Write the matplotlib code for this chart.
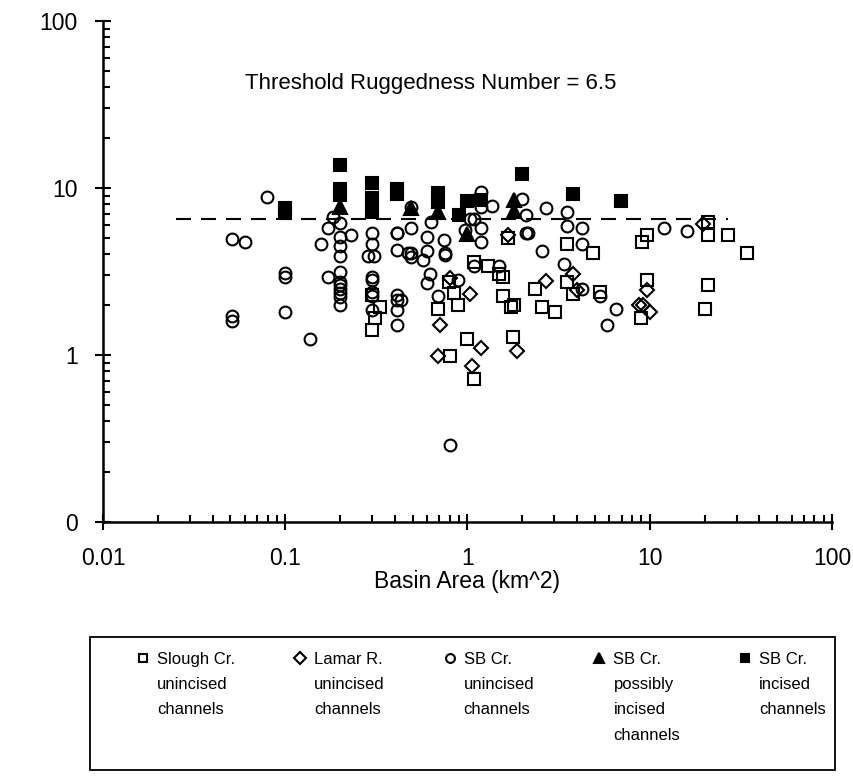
import matplotlib
matplotlib.use('Agg')
import matplotlib.pyplot as plt
from matplotlib.ticker import FixedLocator, FixedFormatter, LogLocator, NullFormatter
from matplotlib.patches import Rectangle

plt.rcParams['font.family'] = ['Liberation Sans', 'DejaVu Sans']

# ---------------- data ----------------
slough_x = [0.3, 0.31, 0.33, 0.3, 0.69, 0.8, 0.84, 0.89, 0.79, 1.0, 1.08, 1.08, 1.29, 1.49,
            1.57, 1.57, 1.73, 1.8, 1.77, 1.67, 2.34, 2.55, 3.02, 3.5, 4.9, 3.5, 3.81, 5.33,
            9.1, 9.7, 9.7, 9.0, 20.9, 20.9, 27, 34, 20.9, 20.2]
slough_y = [1.41, 1.66, 1.95, 2.3, 1.88, 0.98, 2.34, 2.0, 2.72, 1.25, 0.72, 3.62, 3.41, 3.07,
            2.92, 2.26, 1.95, 2.0, 1.28, 5.0, 2.48, 1.95, 1.82, 4.6, 4.06, 2.72, 2.32, 2.39,
            4.77, 5.24, 2.8, 1.66, 5.24, 6.3, 5.24, 4.06, 2.63, 1.88]

lamar_x = [0.8, 1.03, 0.71, 1.19, 0.69, 1.06, 1.67, 1.87, 2.7, 3.81, 4.0, 9.7, 8.7, 9.2, 10.0, 19.7]
lamar_y = [2.9, 2.32, 1.52, 1.1, 0.98, 0.86, 5.2, 1.06, 2.79, 3.05, 2.45, 2.45, 2.0, 2.0, 1.8, 6.08]

sbu_x = [0.051, 0.060, 0.051, 0.051, 0.079, 0.1, 0.1, 0.1, 0.137, 0.157, 0.172, 0.172, 0.182,
         0.2, 0.2, 0.229, 0.2, 0.2, 0.2, 0.2, 0.2, 0.2, 0.2, 0.2, 0.2,
         0.3, 0.3, 0.285, 0.307, 0.3, 0.3, 0.3, 0.3, 0.3,
         0.41, 0.41, 0.47, 0.41, 0.41, 0.43, 0.41, 0.41,
         0.49, 0.49, 0.49, 0.41,
         0.63, 0.6, 0.74, 0.6, 0.75, 0.75, 0.57, 0.62, 0.6, 0.69, 0.89, 0.49,
         1.19, 1.37, 1.19, 1.03, 1.08, 1.19, 0.97, 1.19, 1.08, 1.49, 0.8,
         1.98, 2.1, 2.1, 2.15, 2.7, 2.55, 3.5, 3.5, 4.26, 4.26, 3.4, 4.26, 5.33, 6.54, 5.8,
         11.9, 16.1]
sbu_y = [4.93, 4.73, 1.72, 1.6, 8.8, 3.08, 2.95, 1.82, 1.25, 4.6, 5.74, 2.94, 6.68,
         6.15, 5.07, 5.24, 4.5, 3.92, 3.16, 2.75, 2.62, 2.47, 2.34, 2.22, 2.0,
         5.4, 4.6, 3.92, 3.92, 2.94, 2.8, 2.39, 2.25, 1.86,
         5.4, 4.26, 4.06, 2.3, 2.14, 2.14, 1.86, 1.52,
         5.8, 3.88, 7.7, 5.4,
         6.3, 5.1, 4.85, 4.2, 4.1, 3.95, 3.7, 3.05, 2.7, 2.26, 2.82, 4.1,
         9.5, 7.83, 7.7, 6.5, 6.5, 5.74, 5.6, 4.77, 3.4, 3.4, 0.29,
         8.6, 6.89, 5.4, 5.4, 7.55, 4.22, 7.14, 5.9, 5.74, 4.6, 3.5, 2.47, 2.26, 1.88, 1.52,
         5.74, 5.53]

sbp_x = [0.2, 0.49, 0.69, 1.0, 1.8, 1.8]
sbp_y = [7.7, 7.6, 7.2, 5.3, 8.5, 7.3]

sbi_x = [0.1, 0.1, 0.2, 0.2, 0.2, 0.3, 0.3, 0.3, 0.41, 0.41, 0.69, 0.69, 1.0, 0.9, 1.19,
         1.98, 3.81, 6.93]
sbi_y = [7.6, 7.1, 13.7, 9.85, 9.1, 10.7, 8.7, 7.2, 9.8, 9.2, 9.3, 8.3, 8.4, 6.9, 8.5,
         12.1, 9.16, 8.36]

threshold = 6.5
threshold_x = [0.025, 27]

x_ticks = [0.01, 0.1, 1, 10, 100]
x_tick_labels = ['0.01', '0.1', '1', '10', '100']
y_ticks = [0.1, 1, 10, 100]
y_tick_labels = ['0', '1', '10', '100']

legend_labels = ['Slough Cr.\nunincised\nchannels',
                 'Lamar R.\nunincised\nchannels',
                 'SB Cr.\nunincised\nchannels',
                 'SB Cr.\npossibly\nincised\nchannels',
                 'SB Cr.\nincised\nchannels']

# ---------------- figure ----------------
W, H = 854, 781
fig = plt.figure(figsize=(W / 100, H / 100), dpi=100)
ax = fig.add_axes([103 / W, 1 - 522 / H, (832 - 103) / W, (522 - 21) / H])
ax.set_xscale('log')
ax.set_yscale('log')
ax.set_xlim(0.01, 100)
ax.set_ylim(0.1, 100)

ms = 8.5
mew = 1.5
h_sbi, = ax.plot(sbi_x, sbi_y, ls='none', marker='s', ms=ms, mfc='black', mec='black', mew=mew)
h_sbp, = ax.plot(sbp_x, sbp_y, ls='none', marker='^', ms=ms + 1.5, mfc='black', mec='black', mew=mew)
h_slough, = ax.plot(slough_x, slough_y, ls='none', marker='s', ms=ms, mfc='none', mec='black', mew=mew)
h_lamar, = ax.plot(lamar_x, lamar_y, ls='none', marker='D', ms=ms - 1, mfc='none', mec='black', mew=mew)
h_sbu, = ax.plot(sbu_x, sbu_y, ls='none', marker='o', ms=ms, mfc='none', mec='black', mew=mew)

ax.plot(threshold_x, [threshold, threshold], color='black', lw=1.5, ls=(0, (7.2, 4.8)))

ax.text(0.63, 42.5, 'Threshold Ruggedness Number = %g' % threshold, ha='center', va='center',
        fontsize=16)

for s in ('top', 'right'):
    ax.spines[s].set_visible(False)
for s in ('left', 'bottom'):
    ax.spines[s].set_linewidth(1.8)

ax.xaxis.set_major_locator(FixedLocator(x_ticks))
ax.xaxis.set_major_formatter(FixedFormatter(x_tick_labels))
ax.yaxis.set_major_locator(FixedLocator(y_ticks))
ax.yaxis.set_major_formatter(FixedFormatter(y_tick_labels))
for axis in (ax.xaxis, ax.yaxis):
    axis.set_minor_locator(LogLocator(base=10, subs=range(2, 10), numticks=100))
    axis.set_minor_formatter(NullFormatter())

ax.tick_params(which='major', direction='inout', length=11, width=1.5, labelsize=16.5, pad=12.5)
ax.tick_params(which='minor', direction='in', length=5, width=1.5)

ax.set_xlabel('Basin Area (km^2)', fontsize=16.5)
ax.xaxis.set_label_coords(0.5, -(570 - 522) / 501)
ax.xaxis.label.set_va('top')

# legend box
fig.add_artist(Rectangle((90 / W, 1 - 770 / H), (835 - 90) / W, (770 - 637) / H,
                         transform=fig.transFigure, fill=False, edgecolor='black', lw=1.3))

leg = fig.legend(handles=[h_slough, h_lamar, h_sbu, h_sbp, h_sbi], labels=legend_labels,
                 ncol=5, loc='upper left',
                 bbox_to_anchor=(137 / W, 1 - 652 / H, (826 - 137) / W, 0.0),
                 mode='expand', frameon=False, fontsize=12, handlelength=0.7,
                 handletextpad=0.5, borderpad=0, borderaxespad=0, markerscale=0.75)
for t in leg.get_texts():
    t.set_linespacing(1.85)
leg._legend_handle_box.align = 'top'
for col in leg._legend_handle_box.get_children():
    col.align = 'left'
    for item in col.get_children():
        item.align = 'top'

fig.savefig('out.png', dpi=100, facecolor='white')
